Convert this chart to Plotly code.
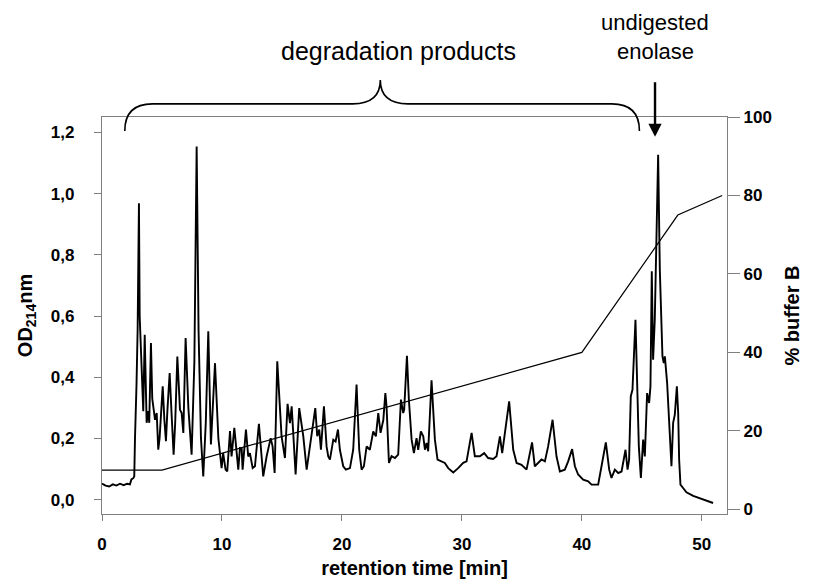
import plotly.graph_objects as go

# HPLC trace: retention time (min) vs absorbance at 214 nm
time_min = [
    0.0, 0.3, 0.6, 0.9, 1.2, 1.5, 1.8, 2.1, 2.33, 2.45, 2.61, 2.69, 2.75, 2.81,
    2.88, 2.97, 3.08, 3.14, 3.2, 3.3, 3.44, 3.56, 3.64, 3.72, 3.86, 3.94, 4.08,
    4.19, 4.31, 4.42, 4.56, 4.69, 4.8, 5.06, 5.2, 5.33, 5.45, 5.64, 5.8, 5.97,
    6.1, 6.28, 6.5, 6.64, 6.78, 6.97, 7.2, 7.47, 7.7, 7.8, 7.89, 8.05, 8.25,
    8.44, 8.65, 8.86, 9.08, 9.42, 9.7, 9.97, 10.1, 10.3, 10.44, 10.67, 10.8,
    11.03, 11.36, 11.5, 11.64, 11.72, 12.0, 12.19, 12.33, 12.56, 12.75, 13.08,
    13.44, 13.72, 14.06, 14.22, 14.39, 14.61, 14.97, 15.25, 15.47, 15.67,
    15.81, 15.94, 16.14, 16.44, 16.78, 17.06, 17.33, 17.47, 17.78, 17.94,
    18.11, 18.25, 18.5, 18.72, 18.86, 19.0, 19.28, 19.47, 19.67, 19.83, 20.11,
    20.33, 20.67, 20.94, 21.22, 21.44, 21.64, 21.83, 22.06, 22.33, 22.47,
    22.61, 22.83, 23.03, 23.22, 23.45, 23.62, 23.72, 23.92, 24.14, 24.42,
    24.69, 24.92, 25.11, 25.19, 25.42, 25.58, 25.81, 26.0, 26.22, 26.36,
    26.58, 26.78, 26.92, 27.06, 27.19, 27.47, 27.75, 27.97, 28.31, 28.58,
    28.86, 29.28, 29.69, 30.11, 30.39, 30.81, 31.08, 31.5, 31.86, 32.19,
    32.61, 32.89, 33.17, 33.36, 33.94, 34.28, 34.56, 34.97, 35.39, 35.85,
    36.08, 36.36, 36.64, 36.92, 37.19, 37.56, 37.89, 38.17, 38.58, 38.86,
    39.19, 39.42, 39.69, 40.11, 40.53, 40.81, 41.36, 41.64, 42.0, 42.28,
    42.47, 42.75, 43.03, 43.31, 43.64, 43.81, 43.94, 44.08, 44.22, 44.47,
    44.61, 44.75, 44.92, 45.11, 45.25, 45.44, 45.61, 45.72, 45.83, 45.94,
    46.08, 46.36, 46.5, 46.64, 46.72, 46.83, 46.92, 47.11, 47.28, 47.47,
    47.61, 47.75, 47.92, 48.03, 48.11, 48.22, 48.44, 48.72, 49.28, 49.83,
    50.4, 50.94, 51.72,
]
od214 = [
    0.052, 0.046, 0.043, 0.050, 0.046, 0.052, 0.047, 0.052, 0.050, 0.066,
    0.070, 0.076, 0.20, 0.337, 0.381, 0.555, 0.969, 0.60, 0.533, 0.40, 0.289,
    0.539, 0.36, 0.251, 0.289, 0.251, 0.512, 0.33, 0.294, 0.261, 0.283, 0.163,
    0.20, 0.370, 0.26, 0.191, 0.29, 0.414, 0.28, 0.147, 0.25, 0.468, 0.294,
    0.283, 0.218, 0.528, 0.30, 0.147, 0.45, 0.806, 1.154, 0.55, 0.20, 0.076,
    0.25, 0.550, 0.180, 0.446, 0.20, 0.103, 0.152, 0.098, 0.092, 0.224, 0.141,
    0.235, 0.098, 0.169, 0.169, 0.098, 0.229, 0.141, 0.152, 0.103, 0.109,
    0.248, 0.076, 0.141, 0.201, 0.174, 0.087, 0.452, 0.207, 0.136, 0.313,
    0.250, 0.305, 0.218, 0.082, 0.299, 0.207, 0.098, 0.174, 0.196, 0.299,
    0.207, 0.229, 0.163, 0.305, 0.174, 0.141, 0.131, 0.196, 0.190, 0.229,
    0.163, 0.109, 0.098, 0.103, 0.163, 0.376, 0.163, 0.098, 0.109, 0.174,
    0.163, 0.190, 0.223, 0.207, 0.283, 0.218, 0.26, 0.348, 0.305, 0.120,
    0.142, 0.136, 0.147, 0.327, 0.283, 0.294, 0.470, 0.327, 0.196, 0.152,
    0.201, 0.163, 0.223, 0.207, 0.163, 0.185, 0.158, 0.390, 0.196, 0.131,
    0.125, 0.120, 0.103, 0.089, 0.103, 0.120, 0.125, 0.218, 0.142, 0.142,
    0.152, 0.136, 0.133, 0.142, 0.207, 0.152, 0.321, 0.163, 0.120, 0.114,
    0.098, 0.187, 0.109, 0.120, 0.131, 0.125, 0.174, 0.261, 0.141, 0.092,
    0.098, 0.125, 0.165, 0.109, 0.082, 0.065, 0.060, 0.049, 0.049, 0.109,
    0.187, 0.098, 0.071, 0.098, 0.087, 0.092, 0.163, 0.098, 0.131, 0.338,
    0.359, 0.588, 0.327, 0.174, 0.071, 0.196, 0.141, 0.348, 0.316, 0.370,
    0.746, 0.457, 0.588, 1.127, 0.751, 0.50, 0.468, 0.446, 0.468, 0.381,
    0.229, 0.109, 0.251, 0.278, 0.370, 0.283, 0.131, 0.049, 0.038, 0.024,
    0.012, 0.005, -0.003, -0.011,
]

# solvent gradient (% buffer B)
grad_time = [0, 5, 40, 48, 51.7]
grad_b = [10, 10, 40, 75, 80]

x_ticks = [0, 10, 20, 30, 40, 50]
od_ticks = [0.0, 0.2, 0.4, 0.6, 0.8, 1.0, 1.2]
od_labels = ["0,0", "0,2", "0,4", "0,6", "0,8", "1,0", "1,2"]
b_ticks = [0, 20, 40, 60, 80, 100]

X_RANGE = [0, 52.1]
OD_RANGE = [-0.047, 1.2506]
B_RANGE = [-1.2, 100]

FONT = "Liberation Sans, Arial, sans-serif"
AXIS_GREY = "#7f7f7f"


def px(t):
    return (t - X_RANGE[0]) / (X_RANGE[1] - X_RANGE[0])


fig = go.Figure()
fig.add_trace(go.Scatter(
    x=time_min, y=od214, mode="lines",
    line=dict(color="black", width=1.9), showlegend=False,
))
fig.add_trace(go.Scatter(
    x=grad_time, y=grad_b, mode="lines", yaxis="y2",
    line=dict(color="black", width=1.2), showlegend=False,
))

# curly brace spanning the degradation products
y_end, y_bar, y_tip = 0.965, 1.033, 1.093
x0, xc, x1 = px(1.9), px(23.2), px(44.8)
dx = px(2.3)
brace = (
    f"M {x0},{y_end} Q {x0},{y_bar} {x0 + dx},{y_bar} "
    f"L {xc - dx},{y_bar} Q {xc},{y_bar} {xc},{y_tip} "
    f"Q {xc},{y_bar} {xc + dx},{y_bar} "
    f"L {x1 - dx},{y_bar} Q {x1},{y_bar} {x1},{y_end}"
)
fig.add_shape(type="path", path=brace, xref="paper", yref="paper",
              line=dict(color="black", width=1.6))

ann_font = dict(family=FONT, size=22, color="black")
common = dict(xref="paper", yref="paper", showarrow=False,
              xanchor="center", yanchor="middle")
fig.add_annotation(text="degradation products", x=px(24.7), y=1.166,
                   font=dict(ann_font, size=25), **common)
fig.add_annotation(text="undigested", x=px(46.1), y=1.239,
                   font=ann_font, **common)
fig.add_annotation(text="enolase", x=px(46.1), y=1.166,
                   font=ann_font, **common)
fig.add_annotation(text="", x=px(46.1), y=0.95, xref="paper", yref="paper",
                   ax=0, ay=-56, showarrow=True, arrowhead=2, arrowsize=1.1,
                   arrowwidth=2.4, arrowcolor="black")

tick_font = dict(family=FONT, size=17, color="black", weight="bold")
title_font = dict(family=FONT, size=20, color="black", weight="bold")

fig.update_layout(
    width=823, height=584,
    margin=dict(l=102, r=96, t=117, b=70, autoexpand=False),
    paper_bgcolor="white", plot_bgcolor="white",
    xaxis=dict(
        range=X_RANGE, tickvals=x_ticks, ticks="outside", ticklen=6,
        tickcolor=AXIS_GREY, showline=True, linecolor=AXIS_GREY, linewidth=1.3,
        mirror=True, showgrid=False, zeroline=False, tickfont=tick_font,
        ticklabelstandoff=8, automargin=False,
        title=dict(text="retention time [min]", font=title_font, standoff=8),
    ),
    yaxis=dict(
        range=OD_RANGE, tickvals=od_ticks, ticktext=od_labels, ticks="outside",
        ticklen=7, tickcolor=AXIS_GREY, showline=True, linecolor=AXIS_GREY,
        linewidth=1.3, showgrid=False, zeroline=False, tickfont=tick_font,
        ticklabelstandoff=16, automargin=False,
        title=dict(text="OD<sub>214</sub>nm", font=title_font, standoff=12),
    ),
    yaxis2=dict(
        range=B_RANGE, tickvals=b_ticks, overlaying="y", side="right",
        ticks="outside", ticklen=12, tickcolor=AXIS_GREY, showline=True,
        linecolor=AXIS_GREY, linewidth=1.3, showgrid=False, zeroline=False,
        tickfont=tick_font, automargin=False,
        title=dict(text="% buffer B", font=title_font, standoff=14),
    ),
)

fig.write_html("out.html")
